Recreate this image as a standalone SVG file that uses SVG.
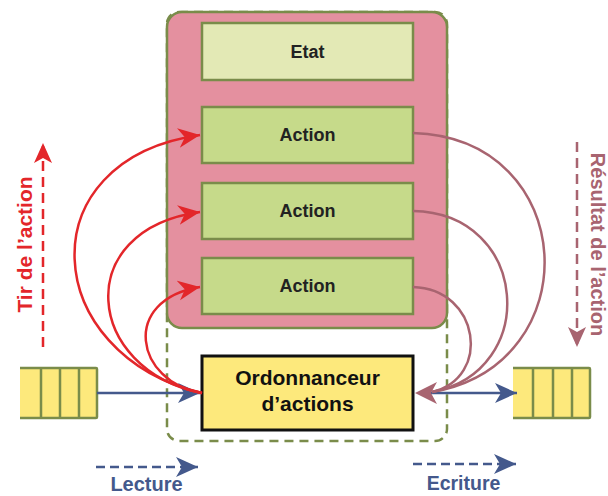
<svg xmlns="http://www.w3.org/2000/svg" width="608" height="496" viewBox="0 0 608 496">
<defs>
<style>
.lbl{font-family:"Liberation Sans",Arial,sans-serif;font-weight:bold;text-anchor:middle}
.box{stroke:#7a8c4a;stroke-width:2.5}
.act{fill:#c6da8a}
.q{fill:#fde97c;stroke:none}
.qs{stroke:#7a8c4a;stroke-width:2.5;fill:none}
.red{fill:none;stroke:#e3262a;stroke-width:2.5}
.mauve{fill:none;stroke:#a86470;stroke-width:2.5}
.blue{fill:none;stroke:#44598c;stroke-width:2.5}
</style>
<marker id="ar" markerUnits="userSpaceOnUse" markerWidth="24" markerHeight="24" viewBox="-20 -10 22 20" refX="0" refY="0" orient="auto">
<path d="M0,0 L-20,-9 L-14,0 L-20,9 Z" fill="#e3262a"/>
</marker>
<marker id="ab" markerUnits="userSpaceOnUse" markerWidth="24" markerHeight="24" viewBox="-22 -11 24 22" refX="0" refY="0" orient="auto">
<path d="M0,0 L-22,-10 L-16,0 L-22,10 Z" fill="#44598c"/>
</marker>
</defs>

<g id="outer-dashed">
<rect x="167" y="12" width="280" height="429" rx="12" fill="none" stroke="#7a8c4a" stroke-width="2.5" stroke-dasharray="9,6"/>
</g>
<g id="container">
<rect x="167" y="12" width="280" height="316" rx="15" fill="#e4909f" class="box"/>
</g>
<g id="etat">
<rect x="202" y="23" width="211" height="57" fill="#e3e9b5" class="box"/>
<text x="307.5" y="58" class="lbl" font-size="18" fill="#222">Etat</text>
</g>
<g id="action1">
<rect x="202" y="107" width="211" height="56" class="box act"/>
<text x="307.5" y="141" class="lbl" font-size="18" fill="#222">Action</text>
</g>
<g id="action2">
<rect x="202" y="183" width="211" height="56" class="box act"/>
<text x="307.5" y="217" class="lbl" font-size="18" fill="#222">Action</text>
</g>
<g id="action3">
<rect x="202" y="258" width="211" height="56" class="box act"/>
<text x="307.5" y="292" class="lbl" font-size="18" fill="#222">Action</text>
</g>
<g id="ordonnanceur">
<rect x="202" y="356" width="211" height="74" fill="#fde97c" stroke="#111" stroke-width="3"/>
<text x="307.5" y="385" class="lbl" font-size="21" fill="#111">Ordonnanceur</text>
<text x="307.5" y="411" class="lbl" font-size="21" fill="#111">d’actions</text>
</g>
<g id="queue-left">
<rect x="20" y="368" width="77" height="50" class="q"/>
<path d="M20,368 H96 Q97,368 97,369 V417 Q97,418 96,418 H20 M41,368 V418 M60,368 V418 M79,368 V418" class="qs"/>
</g>
<g id="queue-right">
<rect x="513" y="368" width="77" height="50" class="q"/>
<path d="M513,368 H589 Q590,368 590,369 V417 Q590,418 589,418 H513 M533,368 V418 M553,368 V418 M572,368 V418" class="qs"/>
</g>

<g id="connectors">
<path d="M97,393 H200" class="blue" marker-end="url(#ab)"/>
<path d="M420,393 H517" class="blue" marker-end="url(#ab)"/>
<path d="M202,393 C40,355 25,160 200,135" class="red" marker-end="url(#ar)"/>
<path d="M202,393 C85,370 70,230 200,212" class="red" marker-end="url(#ar)"/>
<path d="M202,393 C135,382 120,300 200,287" class="red" marker-end="url(#ar)"/>
<path d="M413,133 C580,138 590,365 432,392" class="mauve"/>
<path d="M413,211 C530,213 540,372 432,392" class="mauve"/>
<path d="M413,287 C480,289 492,378 432,392" class="mauve"/>
<path d="M415,393 L437,382 L431,393 L437,404 Z" fill="#a86470"/>
<path d="M43,347 V146" fill="none" stroke="#e3262a" stroke-width="2.5" stroke-dasharray="10,6"/>
<path d="M43,143 L34,163 L43,158 L52,163 Z" fill="#e3262a"/>
<path d="M577,142 V344" fill="none" stroke="#a86470" stroke-width="2.5" stroke-dasharray="10,6"/>
<path d="M577,347 L568,327 L577,332 L586,327 Z" fill="#a86470"/>
<path d="M96,467 H198" class="blue" stroke-dasharray="9,5" marker-end="url(#ab)"/>
<path d="M413,464 H516" class="blue" stroke-dasharray="9,5" marker-end="url(#ab)"/>
</g>

<g id="labels">
<text transform="translate(32,244.5) rotate(-90)" class="lbl" font-size="21" fill="#e3262a">Tir de l’action</text>
<text transform="translate(591,244.5) rotate(90)" class="lbl" font-size="20" fill="#a86470">Résultat de l’action</text>
<text x="146.5" y="491" class="lbl" font-size="20" fill="#44598c">Lecture</text>
<text x="463.5" y="490" class="lbl" font-size="19.5" fill="#44598c">Ecriture</text>
</g>
</svg>
